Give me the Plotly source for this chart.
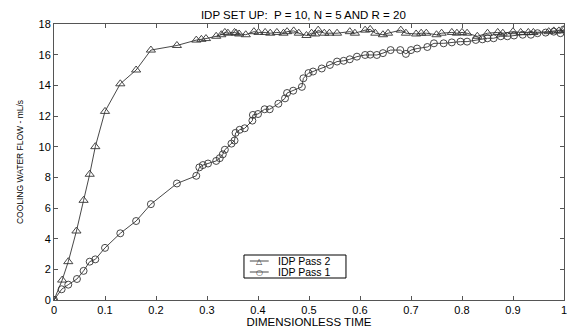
import plotly.graph_objects as go

title = "IDP SET UP:  P = 10, N = 5 AND R = 20"
x_label = "DIMENSIONLESS TIME"
y_label = "COOLING WATER FLOW - mL/s"

pass2_name = "IDP Pass 2"
pass1_name = "IDP Pass 1"

pass2_x = [0.0, 0.016, 0.028, 0.044, 0.058, 0.070, 0.081, 0.100, 0.130, 0.161, 0.190, 0.241,
           0.279, 0.289, 0.298, 0.318, 0.328, 0.335, 0.341, 0.354, 0.357, 0.363, 0.376, 0.392,
           0.401, 0.414, 0.424, 0.437, 0.450, 0.457, 0.470, 0.480, 0.495, 0.505, 0.512, 0.518,
           0.530, 0.540, 0.555, 0.580, 0.590, 0.610, 0.620, 0.630, 0.645, 0.655, 0.680, 0.690,
           0.710, 0.720, 0.730, 0.750, 0.760, 0.780, 0.790, 0.800, 0.810, 0.830, 0.850, 0.870,
           0.880, 0.900, 0.915, 0.930, 0.940, 0.970, 0.980, 0.990, 1.000]
pass2_y = [0.0, 1.3, 2.5, 4.5, 6.5, 8.2, 10.0, 12.3, 14.1, 15.0, 16.3, 16.6,
           16.95, 17.0, 17.05, 17.2, 17.3, 17.45, 17.4, 17.45, 17.4, 17.35, 17.3, 17.5,
           17.45, 17.45, 17.4, 17.45, 17.4, 17.5, 17.55, 17.4, 17.25, 17.4, 17.35, 17.6,
           17.4, 17.4, 17.4, 17.5, 17.4, 17.6, 17.65, 17.4, 17.3, 17.4, 17.6, 17.4,
           17.35, 17.4, 17.4, 17.3, 17.4, 17.45, 17.4, 17.45, 17.4, 17.2, 17.4, 17.45,
           17.4, 17.5, 17.45, 17.45, 17.45, 17.5, 17.55, 17.55, 17.6]

pass1_x = [0.0, 0.015, 0.028, 0.045, 0.058, 0.070, 0.081, 0.100, 0.130, 0.161, 0.190, 0.241,
           0.279, 0.285, 0.292, 0.302, 0.318, 0.325, 0.331, 0.335, 0.348, 0.354, 0.356, 0.364,
           0.374, 0.389, 0.390, 0.400, 0.413, 0.423, 0.440, 0.453, 0.457, 0.469, 0.486, 0.489,
           0.499, 0.508, 0.525, 0.541, 0.555, 0.568, 0.580, 0.594, 0.610, 0.620, 0.633, 0.645,
           0.660, 0.679, 0.690, 0.700, 0.712, 0.732, 0.745, 0.764, 0.780, 0.797, 0.810, 0.827,
           0.840, 0.850, 0.862, 0.876, 0.889, 0.902, 0.919, 0.935, 0.948, 0.964, 0.980, 0.993, 1.000]
pass1_y = [0.0, 0.7, 1.0, 1.37, 1.9, 2.5, 2.65, 3.4, 4.35, 5.15, 6.25, 7.6,
           8.1, 8.65, 8.8, 8.9, 9.07, 9.25, 9.5, 9.8, 10.2, 10.4, 10.9, 11.1,
           11.2, 11.7, 12.07, 12.13, 12.44, 12.44, 12.8, 13.15, 13.5, 13.65, 13.9, 14.46,
           14.8, 14.9, 15.1, 15.33, 15.55, 15.6, 15.7, 15.87, 15.98, 16.0, 15.98, 16.1,
           16.3, 16.3, 16.05, 16.3, 16.4, 16.5, 16.74, 16.74, 16.8, 16.85, 16.85, 16.96,
           17.0, 17.07, 17.07, 17.2, 17.2, 17.25, 17.3, 17.3, 17.4, 17.44, 17.5, 17.4, 17.65]

x_ticks = [0, 0.1, 0.2, 0.3, 0.4, 0.5, 0.6, 0.7, 0.8, 0.9, 1]
x_tick_labels = ["0", "0.1", "0.2", "0.3", "0.4", "0.5", "0.6", "0.7", "0.8", "0.9", "1"]
y_ticks = [0, 2, 4, 6, 8, 10, 12, 14, 16, 18]

font = "Liberation Sans, Arial, sans-serif"
line_col = "#333333"

fig = go.Figure()
fig.add_trace(go.Scatter(x=pass2_x, y=pass2_y, mode="lines+markers", name=pass2_name,
                         line=dict(color=line_col, width=0.9),
                         marker=dict(symbol="triangle-up-open", size=8, color=line_col,
                                     line=dict(width=0.9))))
fig.add_trace(go.Scatter(x=pass1_x, y=pass1_y, mode="lines+markers", name=pass1_name,
                         line=dict(color=line_col, width=0.9),
                         marker=dict(symbol="circle-open", size=7, color=line_col,
                                     line=dict(width=0.9))))

axis_common = dict(showline=True, linecolor="#555555", linewidth=1, mirror="ticks",
                   ticks="inside", ticklen=4, tickcolor="#555555", showgrid=False,
                   zeroline=False, automargin=False, ticklabeloverflow="allow",
                   tickfont=dict(family=font, size=11, color="black"))

# compact custom legend (box, sample lines, symbols, labels)
bx0, bx1, by0, by1 = 0.3725, 0.5725, 0.0797, 0.163
rows = [(0.1413, "\u25b3", pass2_name), (0.1014, "\u25cb", pass1_name)]
shapes = [dict(type="rect", xref="paper", yref="paper", x0=bx0, x1=bx1, y0=by0, y1=by1,
               line=dict(color="black", width=1), fillcolor="white", layer="above")]
annotations = []
for ry, sym, name in rows:
    shapes.append(dict(type="line", xref="paper", yref="paper", x0=0.384, x1=0.421, y0=ry, y1=ry,
                       line=dict(color=line_col, width=0.9), layer="above"))
    annotations.append(dict(xref="paper", yref="paper", x=0.4025, y=ry, text=sym, showarrow=False,
                            xanchor="center", yanchor="middle",
                            font=dict(family="DejaVu Sans", size=8, color=line_col),
                            bgcolor="rgba(0,0,0,0)"))
    annotations.append(dict(xref="paper", yref="paper", x=0.437, y=ry, text=name, showarrow=False,
                            xanchor="left", yanchor="middle", borderpad=0,
                            font=dict(family=font, size=10.5, color="black")))

fig.update_layout(
    width=567, height=331,
    margin=dict(l=54, r=3, t=24, b=31, autoexpand=False),
    paper_bgcolor="white", plot_bgcolor="white",
    title=dict(text=title, x=0.535, xanchor="center", y=0.955, yanchor="middle",
               font=dict(family=font, size=11.5, color="black"), automargin=False),
    xaxis=dict(range=[0, 1], tickvals=x_ticks, ticktext=x_tick_labels,
               title=dict(text=x_label, font=dict(family=font, size=11.5, color="black"), standoff=1),
               **axis_common),
    yaxis=dict(range=[0, 18], tickvals=y_ticks,
               title=dict(text=y_label, font=dict(family=font, size=8.5, color="black"), standoff=13),
               **axis_common),
    showlegend=False,
    shapes=shapes,
    annotations=annotations,
)

fig.write_html("out.html", config={"displayModeBar": False},
               post_script="document.body.style.margin='0';document.body.style.overflow='hidden';")
